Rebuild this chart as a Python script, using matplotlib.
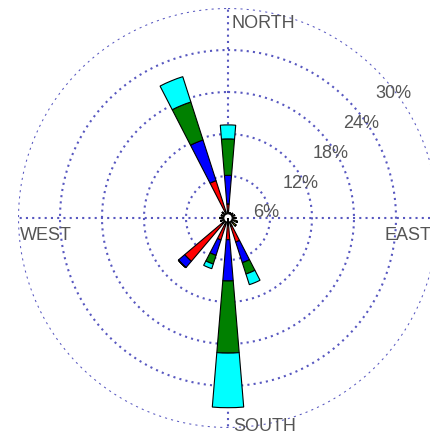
import numpy as np
import matplotlib.pyplot as plt

# sixteen compass sectors, clockwise from north
directions = ['N', 'NNE', 'NE', 'ENE', 'E', 'ESE', 'SE', 'SSE',
              'S', 'SSW', 'SW', 'WSW', 'W', 'WNW', 'NW', 'NNW']

# frequency (%) of each speed class per sector, stacked outward
class_yellow = [1.0, 0.8, 0.9, 1.0, 1.1, 1.4, 1.5, 1.2, 1.0, 1.0, 1.0, 1.1, 1.2, 1.0, 1.1, 1.0]
class_red    = [1.0, 0.0, 0.0, 0.0, 0.0, 0.0, 0.0, 2.4, 2.1, 2.3, 7.1, 0.0, 0.0, 0.0, 0.0, 4.6]
class_blue   = [4.1, 0.0, 0.0, 0.0, 0.0, 0.0, 0.0, 3.1, 5.9, 2.3, 1.2, 0.0, 0.0, 0.0, 0.0, 6.1]
class_green  = [5.2, 0.0, 0.0, 0.0, 0.0, 0.0, 0.0, 1.7, 10.3, 1.3, 0.0, 0.0, 0.0, 0.0, 0.0, 5.7]
class_cyan   = [2.0, 0.0, 0.0, 0.0, 0.0, 0.0, 0.0, 1.6, 7.8, 0.7, 0.0, 0.0, 0.0, 0.0, 0.0, 3.8]

class_colors = ['#e0e000', '#ff0000', '#0000ff', '#008000', '#00ffff']
ring_values = [6, 12, 18, 24, 30]
ring_labels = ['6%', '12%', '18%', '24%', '30%']
compass_labels = ['NORTH', 'EAST', 'SOUTH', 'WEST']

plt.rcParams['font.family'] = ['Liberation Sans', 'DejaVu Sans']

W, H = 431, 436
fig = plt.figure(figsize=(W / 100, H / 100), dpi=100)
cx, cy, rad = 228, 218, 210
ax = fig.add_axes([(cx - rad) / W, (H - cy - rad) / H, 2 * rad / W, 2 * rad / H],
                  projection='polar')
ax.set_theta_zero_location('N')
ax.set_theta_direction(-1)
ax.set_ylim(0, 30)
ax.set_xticks([])
ax.set_yticks([])
ax.grid(False)
ax.spines['polar'].set_visible(False)
ax.patch.set_alpha(0)

grid_col = '#5858c0'
dots = (0, (1, 2))
t = np.linspace(0, 2 * np.pi, 400)
for r in ring_values:
    ax.plot(t, np.full_like(t, r), ls=dots, lw=1.5, color=grid_col, zorder=1)
for a in [0, np.pi / 2, np.pi, 3 * np.pi / 2]:
    ax.plot([a, a], [0, 30], ls=dots, lw=1.5, color=grid_col, zorder=1)

theta = np.deg2rad(np.arange(16) * 22.5)
width = np.deg2rad(9.5)
bottom = np.zeros(16)
for vals, col in zip([class_yellow, class_red, class_blue, class_green, class_cyan], class_colors):
    vals = np.array(vals)
    ax.bar(theta, vals, width=width, bottom=bottom, color=col,
           edgecolor='black', linewidth=0.8, zorder=3)
    bottom = bottom + vals

# calm circle in the middle
ax.bar(0, 0.6, width=2 * np.pi, bottom=0, color='white', edgecolor='black',
       linewidth=0.8, zorder=4)

txt_col = '#555555'
fs = 13
# compass names (left edge, baseline in pixels)
for s, (x, y) in zip(compass_labels, [(232, 28), (385, 240), (233, 431), (20, 240)]):
    fig.text(x / W, 1 - y / H, s, ha='left', va='baseline', fontsize=fs, color=txt_col)
# ring percentages
for s, (x, y) in zip(ring_labels, [(253, 217), (283, 188), (313, 158), (343, 128), (375, 98)]):
    fig.text(x / W, 1 - y / H, s, ha='left', va='baseline', fontsize=fs, color=txt_col)

fig.savefig('out.png', dpi=100)
